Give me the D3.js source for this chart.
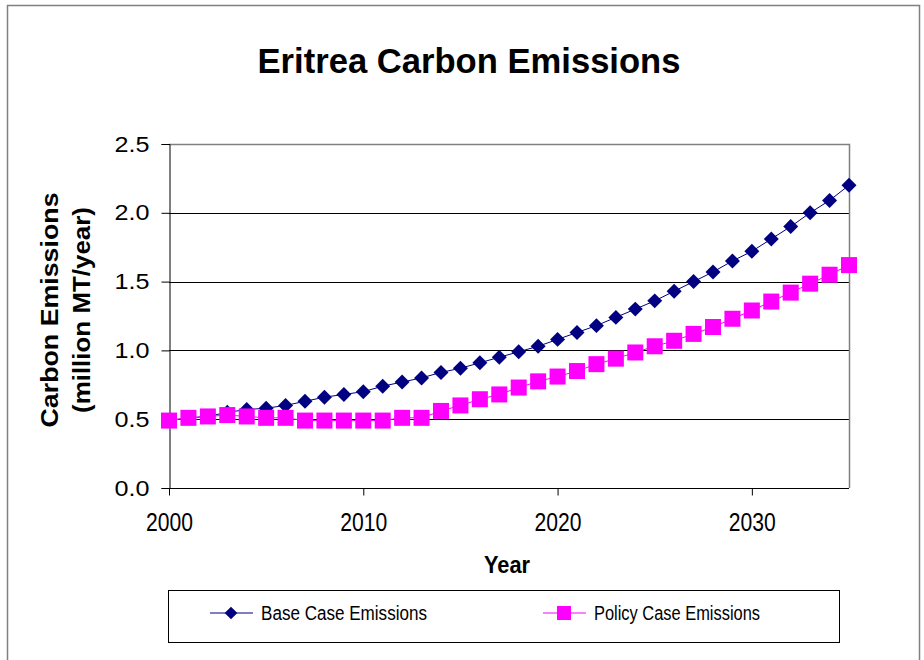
<!DOCTYPE html>
<html lang="en">
<head>
  <meta charset="UTF-8">
  <title>Eritrea Carbon Emissions</title>
  <script src="https://d3js.org/d3.v7.min.js"></script>
  <style>
    body {
      margin: 0;
      background-color: #fff;
    }
    svg {
      display: block;
      font-family: "Liberation Sans", Arial, sans-serif;
    }
  </style>
</head>
<body>
  <svg id="chart" width="924" height="660"></svg>

  <script>
    // data
    const years = d3.range(2000, 2036);
    const baseCase = [0.49, 0.51, 0.52, 0.55, 0.57, 0.58, 0.60, 0.63, 0.66, 0.68,
                      0.70, 0.74, 0.77, 0.80, 0.84, 0.87, 0.91, 0.95, 0.99, 1.03,
                      1.08, 1.13, 1.18, 1.24, 1.30, 1.36, 1.43, 1.50, 1.57, 1.65,
                      1.72, 1.81, 1.90, 2.00, 2.09, 2.20];
    const policyCase = [0.49, 0.51, 0.52, 0.53, 0.52, 0.51, 0.51, 0.49, 0.49, 0.49,
                        0.49, 0.49, 0.51, 0.51, 0.56, 0.60, 0.645, 0.68, 0.73, 0.775,
                        0.81, 0.85, 0.90, 0.94, 0.985, 1.03, 1.07, 1.12, 1.17, 1.23,
                        1.29, 1.355, 1.42, 1.485, 1.55, 1.62];
    const seriesNames = ["Base Case Emissions", "Policy Case Emissions"];
    const yTicks = [0, 0.5, 1.0, 1.5, 2.0, 2.5];
    const xTicks = [2000, 2010, 2020, 2030];

    const svg = d3.select("#chart");

    // outer chart frame
    svg.append("rect")
      .attr("x", 7.5).attr("y", 5.5)
      .attr("width", 912).attr("height", 660)
      .attr("fill", "none")
      .attr("stroke", "#808080")
      .attr("stroke-width", 1.5);

    const plotLeft = 169, plotRight = 849, plotTop = 144, plotBottom = 488;

    const x = d3.scaleLinear().domain([2000, 2035]).range([plotLeft, plotRight]);
    const y = d3.scaleLinear().domain([0, 2.5]).range([plotBottom, plotTop]);

    // gridlines
    svg.append("g")
      .selectAll("line")
      .data(yTicks.filter(d => d > 0 && d < 2.5))
      .join("line")
      .attr("x1", plotLeft).attr("x2", plotRight)
      .attr("y1", d => Math.round(y(d)) + 0.5)
      .attr("y2", d => Math.round(y(d)) + 0.5)
      .attr("stroke", "#000")
      .attr("stroke-width", 1);

    // plot area top / right border
    svg.append("path")
      .attr("d", `M${plotLeft},${plotTop + 0.5}H${plotRight + 0.5}V${plotBottom}`)
      .attr("fill", "none")
      .attr("stroke", "#808080")
      .attr("stroke-width", 1.5);

    // y axis
    const yAxis = svg.append("g")
      .attr("transform", `translate(${plotLeft + 0.5},0)`)
      .call(d3.axisLeft(y).tickValues(yTicks).tickFormat(d3.format(".1f")).tickSize(8).tickPadding(12));
    yAxis.select(".domain").attr("stroke", "#000");
    yAxis.selectAll(".tick line").attr("stroke", "#000");
    yAxis.selectAll("text").attr("font-size", 22).attr("fill", "#000")
      .attr("font-family", "Liberation Sans, Arial, sans-serif")
      .attr("textLength", 35).attr("lengthAdjust", "spacingAndGlyphs");

    // x axis
    const xAxis = svg.append("g")
      .attr("transform", `translate(0,${plotBottom + 0.5})`)
      .call(d3.axisBottom(x).tickValues(xTicks).tickFormat(d3.format("d")).tickSize(7).tickPadding(0));
    xAxis.select(".domain").attr("d", `M${plotLeft},0H${plotRight}`).attr("stroke", "#000");
    xAxis.selectAll(".tick line").attr("stroke", "#000");
    xAxis.selectAll("text").attr("font-size", 25).attr("fill", "#000")
      .attr("font-family", "Liberation Sans, Arial, sans-serif")
      .attr("y", 42).attr("dy", null)
      .attr("textLength", 47).attr("lengthAdjust", "spacingAndGlyphs");

    // series
    const line = d3.line().x((d, i) => x(years[i])).y(d => y(d));

    svg.append("path")
      .datum(baseCase)
      .attr("d", line)
      .attr("fill", "none")
      .attr("stroke", "#000080")
      .attr("stroke-width", 1);

    svg.append("g")
      .selectAll("path")
      .data(baseCase)
      .join("path")
      .attr("d", d3.symbol(d3.symbolSquare, 112))
      .attr("transform", (d, i) => `translate(${x(years[i])},${y(d)}) rotate(45)`)
      .attr("fill", "#000080");

    svg.append("path")
      .datum(policyCase)
      .attr("d", line)
      .attr("fill", "none")
      .attr("stroke", "#ff00ff")
      .attr("stroke-width", 1);

    svg.append("g")
      .selectAll("rect")
      .data(policyCase)
      .join("rect")
      .attr("x", (d, i) => x(years[i]) - 8)
      .attr("y", d => y(d) - 8)
      .attr("width", 16).attr("height", 16)
      .attr("fill", "#ff00ff");

    // title
    svg.append("text")
      .attr("x", 469).attr("y", 73)
      .attr("text-anchor", "middle")
      .attr("font-size", 35)
      .attr("font-weight", "bold")
      .attr("textLength", 423).attr("lengthAdjust", "spacingAndGlyphs")
      .text("Eritrea Carbon Emissions");

    // axis titles
    svg.append("text")
      .attr("x", 507).attr("y", 573)
      .attr("text-anchor", "middle")
      .attr("font-size", 24)
      .attr("font-weight", "bold")
      .attr("textLength", 46).attr("lengthAdjust", "spacingAndGlyphs")
      .text("Year");

    const yTitle = svg.append("text")
      .attr("transform", "translate(0,310) rotate(-90)")
      .attr("text-anchor", "middle")
      .attr("font-size", 24)
      .attr("font-weight", "bold");
    yTitle.append("tspan").attr("x", 0).attr("y", 58)
      .attr("textLength", 235).attr("lengthAdjust", "spacingAndGlyphs")
      .text("Carbon Emissions");
    yTitle.append("tspan").attr("x", 0).attr("y", 90)
      .attr("textLength", 206).attr("lengthAdjust", "spacingAndGlyphs")
      .text("(million MT/year)");

    // legend
    svg.append("rect")
      .attr("x", 168.5).attr("y", 590.5)
      .attr("width", 671).attr("height", 52)
      .attr("fill", "#fff")
      .attr("stroke", "#000")
      .attr("stroke-width", 1);

    const legendItems = [
      {name: seriesNames[0], x0: 210, color: "#000080", shape: "diamond"},
      {name: seriesNames[1], x0: 543, color: "#ff00ff", shape: "square"}
    ];
    const lg = svg.append("g").selectAll("g").data(legendItems).join("g")
      .attr("transform", d => `translate(${d.x0},613)`);
    lg.append("line")
      .attr("x1", 0).attr("x2", 43)
      .attr("stroke", d => d.color)
      .attr("stroke-width", 1);
    lg.filter(d => d.shape === "diamond").append("path")
      .attr("d", d3.symbol(d3.symbolSquare, 80))
      .attr("transform", "translate(21,0) rotate(45)")
      .attr("fill", d => d.color);
    lg.filter(d => d.shape === "square").append("rect")
      .attr("x", 14).attr("y", -7).attr("width", 14).attr("height", 14)
      .attr("fill", d => d.color);
    lg.append("text")
      .attr("x", 51).attr("y", 7)
      .attr("font-size", 20)
      .attr("textLength", 166).attr("lengthAdjust", "spacingAndGlyphs")
      .text(d => d.name);
  </script>
</body>
</html>
